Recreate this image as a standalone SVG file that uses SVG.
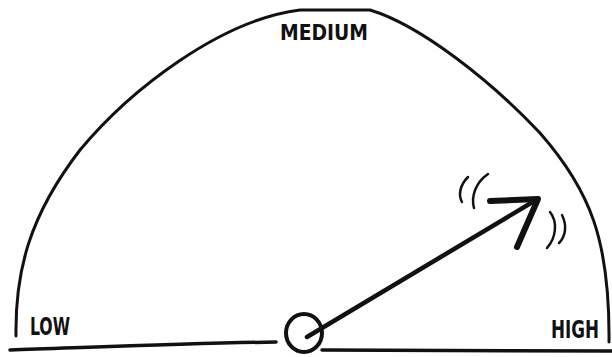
<svg xmlns="http://www.w3.org/2000/svg" width="612" height="357" viewBox="0 0 612 357">
<style>
.ln{fill:none;stroke:#111;stroke-linecap:round;stroke-linejoin:round}
.lbl{font-family:"DejaVu Sans Condensed","DejaVu Sans",sans-serif;font-weight:bold;fill:#111}
</style>
<rect width="612" height="357" fill="#fff"/>
<g id="gauge">
<path class="ln" stroke-width="3" d="M16,336 C15,270 30,215 80,150 C130,90 220,20 300,10 L370,10 C420,25 490,80 540,133 C590,190 610,240 609,342"/>
<path class="ln" stroke-width="3.5" d="M10,350 C100,347 200,343 276,342"/>
<path class="ln" stroke-width="3.5" d="M322,350 L612,351"/>
</g>
<g id="pivot">
<ellipse class="ln" stroke-width="4" cx="304" cy="333" rx="18" ry="19"/>
</g>
<g id="needle">
<path class="ln" stroke-width="4.5" d="M307,337 L536,200"/>
<path class="ln" stroke-width="6" d="M490,201 L538,199 L517,247"/>
<path class="ln" stroke-width="2.5" d="M468,177 C460,185 458,195 462,202"/>
<path class="ln" stroke-width="2.5" d="M488,174 C475,183 471,197 474,208"/>
<path class="ln" stroke-width="2.5" d="M550,212 C558,222 556,238 547,248"/>
<path class="ln" stroke-width="2.5" d="M562,215 C567,225 566,236 559,243"/>
</g>
<g id="labels">
<text class="lbl" x="280" y="40" font-size="22" textLength="88" lengthAdjust="spacingAndGlyphs">MEDIUM</text>
<text class="lbl" x="30" y="335" font-size="25" textLength="40" lengthAdjust="spacingAndGlyphs">LOW</text>
<text class="lbl" x="551" y="338" font-size="24" textLength="48" lengthAdjust="spacingAndGlyphs">HIGH</text>
</g>
</svg>
